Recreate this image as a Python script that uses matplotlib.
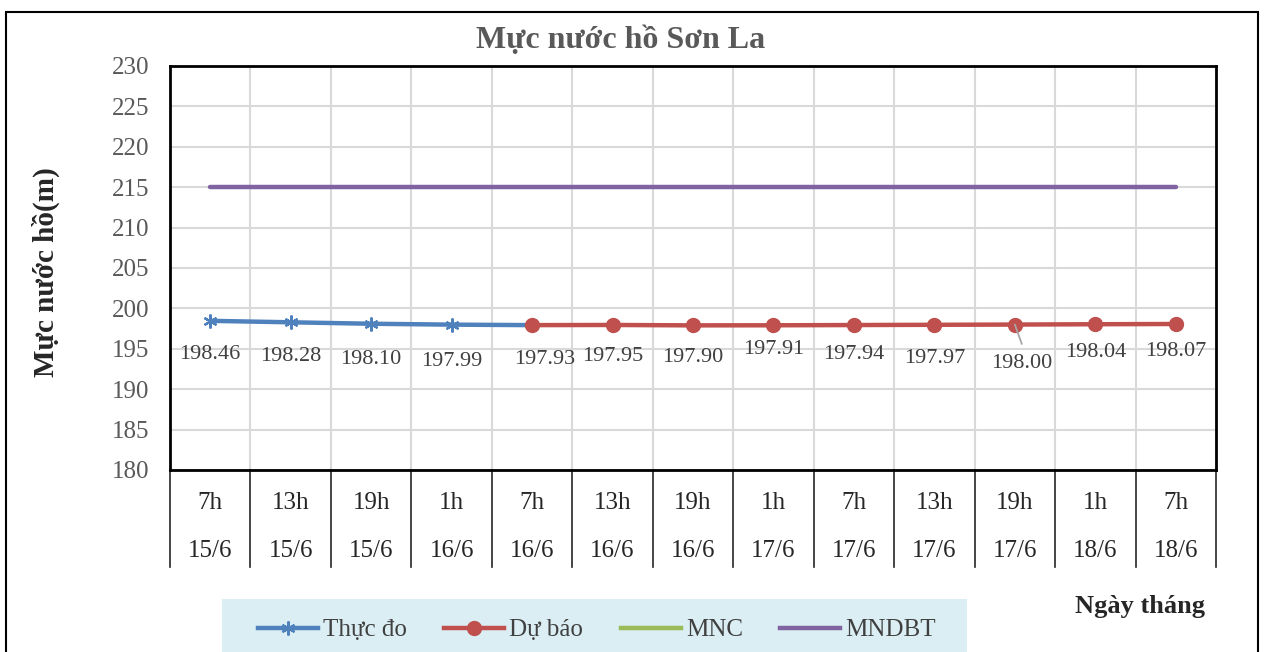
import matplotlib.pyplot as plt
from matplotlib.patches import Rectangle
from matplotlib.lines import Line2D
import matplotlib.transforms as mtransforms

plt.rcParams['font.family'] = ['Liberation Serif', 'DejaVu Serif']

# dữ liệu
gio = ['7h', '13h', '19h', '1h', '7h', '13h', '19h', '1h', '7h', '13h', '19h', '1h', '7h']
ngay = ['15/6', '15/6', '15/6', '16/6', '16/6', '16/6', '16/6', '17/6', '17/6', '17/6', '17/6', '18/6', '18/6']
thuc_do = [198.46, 198.28, 198.10, 197.99, 197.93]
du_bao = [197.93, 197.95, 197.90, 197.91, 197.94, 197.97, 198.00, 198.04, 198.07]
mnc = [175] * 13
mndbt = [215] * 13

# vị trí nhãn số liệu (dx, dy theo pixel)
nhan_offset = [(0, -34), (0, -34), (0, -36), (0, -37), (13, -34), (0, -32),
               (0, -32), (0, -24), (0, -29), (0, -34), (7, -39), (0, -28), (0, -28)]

W, H = 1268, 652
fig = plt.figure(figsize=(W / 100, H / 100), dpi=100)
fig.patch.set_facecolor('white')

# khung ngoài
fig.add_artist(Rectangle((6 / W, -0.05), 1252 / W, 1 - 12 / H + 0.05, transform=fig.transFigure,
                         fill=False, edgecolor='black', linewidth=1.5))

left, right, top, bottom = 170, 1216, 66, 470
ax = fig.add_axes([left / W, 1 - bottom / H, (right - left) / W, (bottom - top) / H])

x = list(range(len(gio)))
ax.plot(x, mnc, color='#9BBB59', linewidth=3.2, solid_capstyle='round', zorder=3)
ax.plot(x, mndbt, color='#8064A2', linewidth=3.2, solid_capstyle='round', zorder=3)
ax.plot(x[:len(thuc_do)], thuc_do, color='#4F81BD', linewidth=3.2, marker=(6, 2, 0),
        markersize=10, markeredgewidth=1.6, solid_capstyle='round', zorder=4)
x_db = x[len(thuc_do) - 1:]
ax.plot(x_db, du_bao, color='#C0504D', linewidth=3.2, marker='o', markersize=10,
        solid_capstyle='round', zorder=5)

# nhãn số liệu
gia_tri = thuc_do[:-1] + du_bao
for i, v in enumerate(gia_tri):
    dx, dy = nhan_offset[i]
    ax.annotate(f'{v:.2f}', (i, v), xytext=(dx * 0.72, dy * 0.72), textcoords='offset points',
                ha='center', va='center', fontsize=16, color='#404040', zorder=6)
# đường dẫn nhãn 198.00
ax.annotate('', (10, 198.00), xytext=(5, -14), textcoords='offset points',
            arrowprops=dict(arrowstyle='-', color='#A6A6A6', lw=1.3, shrinkA=0, shrinkB=0), zorder=6)

ax.set_xlim(-0.5, len(gio) - 0.5)
ax.set_ylim(180, 230)
ax.set_yticks(range(180, 231, 5))
ax.set_xticks([i - 0.5 for i in range(len(gio) + 1)])
ax.set_xticklabels([])
ax.tick_params(axis='x', length=0)
ax.tick_params(axis='y', length=0, labelsize=18, labelcolor='#595959', pad=15)
ax.grid(True, color='#D9D9D9', linewidth=1.5, zorder=0)
for s in ax.spines.values():
    s.set_linewidth(2)
    s.set_color('black')

# bảng nhãn trục x
trans = mtransforms.blended_transform_factory(ax.transData, ax.transAxes)
for i in range(len(gio)):
    ax.text(i, -33 / 404, gio[i], transform=trans, ha='center', va='center', fontsize=18, color='#262626')
    ax.text(i, -81 / 404, ngay[i], transform=trans, ha='center', va='center', fontsize=18, color='#262626')
for i in range(len(gio) + 1):
    ax.add_line(Line2D([i - 0.5, i - 0.5], [0, -97 / 404], transform=trans, color='#262626',
                       linewidth=1.2, clip_on=False))

fig.text(621 / W, 1 - 40 / H, 'Mực nước hồ Sơn La', ha='center', va='center', fontsize=23,
         fontweight='bold', color='#595959')
fig.text(46 / W, 1 - 272 / H, 'Mực nước hồ(m)', ha='center', va='center', rotation=90,
         fontsize=21, fontweight='bold', color='#262626')
fig.text(1140 / W, 1 - 606 / H, 'Ngày tháng', ha='center', va='center', fontsize=19,
         fontweight='bold', color='#262626')

# chú thích
fig.add_artist(Rectangle((222 / W, -0.05), 745 / W, (53 / H) + 0.05, transform=fig.transFigure,
                         facecolor='#DAEEF3', edgecolor='none'))
handles = [
    Line2D([], [], color='#4F81BD', linewidth=3.2, marker=(6, 2, 0), markersize=10, markeredgewidth=1.6),
    Line2D([], [], color='#C0504D', linewidth=3.2, marker='o', markersize=10),
    Line2D([], [], color='#9BBB59', linewidth=3.2),
    Line2D([], [], color='#8064A2', linewidth=3.2),
]
leg = fig.legend(handles, ['Thực đo', 'Dự báo', 'MNC', 'MNDBT'], loc='center',
                 bbox_to_anchor=(597 / W, 1 - 630 / H), ncol=4, frameon=False, fontsize=18,
                 handlelength=2.4, handletextpad=0.2, columnspacing=1.5, labelcolor='#404040')

fig.savefig('out.png', dpi=100)
